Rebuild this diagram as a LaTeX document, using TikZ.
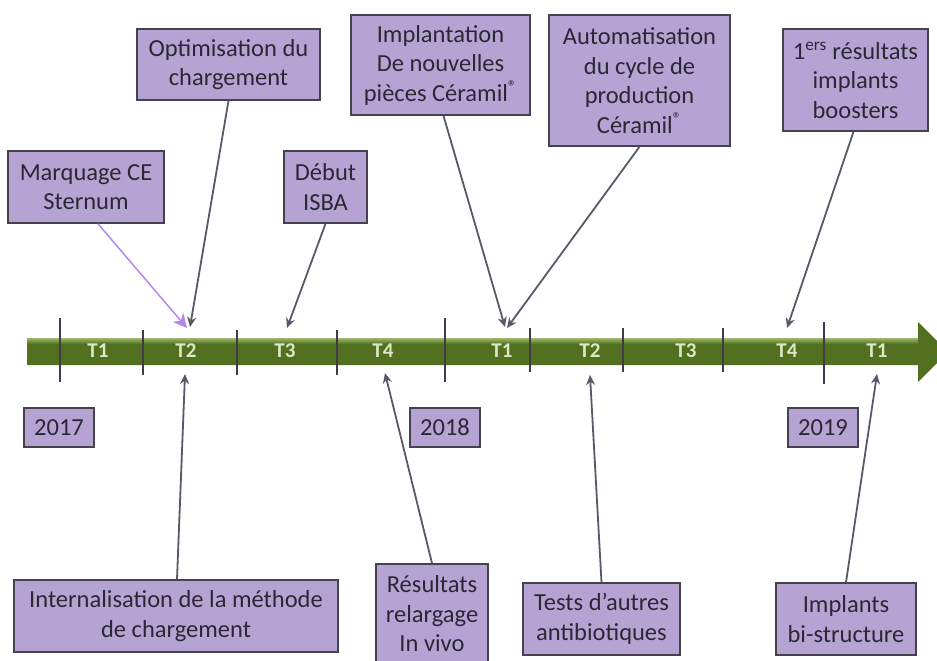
\documentclass[tikz,border=0pt]{standalone}
\usepackage{fontspec}
\setmainfont{Carlito}
\usetikzlibrary{arrows.meta}
\definecolor{boxfill}{HTML}{B5A3D3}
\definecolor{boxline}{HTML}{45424F}
\definecolor{txt}{HTML}{2A2834}
\definecolor{barbase}{HTML}{52701F}
\definecolor{barlight}{HTML}{9DB86A}
\definecolor{tick}{HTML}{3E3C4C}
\definecolor{tlabel}{HTML}{DCE8C4}
\definecolor{link}{HTML}{5A5866}
\definecolor{lilac}{HTML}{B486EA}
\begin{document}
\begin{tikzpicture}[x=1pt,y=-1pt,
  event/.style={draw=boxline, line width=1.6pt, fill=boxfill, text=txt,
    align=center, inner sep=2pt,
    font=\fontsize{24.5}{29.5}\selectfont},
  year/.style={event, minimum width=70pt, minimum height=39pt},
  quarter/.style={text=tlabel, font=\bfseries\fontsize{21}{24}\selectfont},
  tickmark/.style={draw=tick, line width=2pt},
  link/.style={draw=link, line width=1.8pt, -{Stealth[length=10pt,width=9pt]}},
  lilaclink/.style={draw=lilac, line width=1.5pt, -{Stealth[length=14pt,width=14pt,fill=lilac]}}]
\useasboundingbox (0,0) rectangle (937,661);
\clip (0,0) rectangle (937,661);

% timeline arrow
\fill[barbase] (27,338) -- (918,338) -- (918,322) -- (948,352) -- (918,382)
  -- (918,365) -- (27,365) -- cycle;
\shade[top color=barlight, bottom color=barbase] (27,338) rectangle (918,344);

% quarter separators
\foreach \x/\a/\b in {60/318/382, 143/330/375, 237/330/375, 337/330/375,
  445/318/382, 530/328/372, 623/328/372, 723/328/372, 824/322/384}
  \draw[tickmark] (\x,\a) -- (\x,\b);

% quarter labels
\node[quarter] (q1) at (98,351) {T1};
\node[quarter] (q2) at (186,351) {T2};
\node[quarter] (q3) at (285,351) {T3};
\node[quarter] (q4) at (383,351) {T4};
\node[quarter] (q5) at (502,351) {T1};
\node[quarter] (q6) at (590,351) {T2};
\node[quarter] (q7) at (686,351) {T3};
\node[quarter] (q8) at (787,351) {T4};
\node[quarter] (q9) at (877,351) {T1};

% years
\node[year] (y17) at (59,427.5) {2017};
\node[year] (y18) at (445,427.5) {2018};
\node[year] (y19) at (823,427.5) {2019};

% events above the timeline
\node[event, minimum width=156pt, minimum height=72pt] (ce) at (86,187)
  {Marquage CE\\Sternum};
\node[event, minimum width=183pt, minimum height=71pt] (opt) at (228.5,64.5)
  {Optimisation du\\chargement};
\node[event, minimum width=83pt, minimum height=72pt] (isba) at (325.5,187)
  {Début\\ISBA};
\node[event, minimum width=179pt, minimum height=100pt] (impl) at (440.5,65)
  {Implantation\\De nouvelles\\pièces Céramil\textsuperscript{®}};
\node[event, minimum width=181pt, minimum height=131pt] (auto) at (639.5,80.5)
  {Automatisation\\du cycle de\\production\\Céramil\textsuperscript{®}};
\node[event, minimum width=145pt, minimum height=102pt] (boost) at (855.5,80)
  {1\textsuperscript{ers} résultats\\implants\\boosters};

% events below the timeline
\node[event, minimum width=324pt, minimum height=72pt] (intern) at (176,616)
  {Internalisation de la méthode\\de chargement};
\node[event, minimum width=112pt, minimum height=100pt] (relarg) at (432,614)
  {Résultats\\relargage\\In vivo};
\node[event, minimum width=157pt, minimum height=72pt] (tests) at (601.5,619)
  {Tests d’autres\\antibiotiques};
\node[event, minimum width=140pt, minimum height=72pt] (bistr) at (846,619)
  {Implants\\bi-structure};

% arrow targets on the timeline
\coordinate (tce) at (187,328);
\coordinate (topt) at (190,327);
\coordinate (tisba) at (287,328);
\coordinate (timpl) at (505,327);
\coordinate (tauto) at (507,328);
\coordinate (tboost) at (787,328);
\coordinate (tintern) at (185,374);
\coordinate (trelarg) at (385,373);
\coordinate (ttests) at (590,375);
\coordinate (tbistr) at (877,374);

% connectors
\draw[lilaclink] ([xshift=12pt]ce.south) -- (tce);
\draw[link] (opt.south) -- (topt);
\draw[link] (isba.south) -- (tisba);
\draw[link] ([xshift=3pt]impl.south) -- (timpl);
\draw[link] (auto.south) -- (tauto);
\draw[link] ([xshift=-2pt]boost.south) -- (tboost);
\draw[link] ([xshift=1pt]intern.north) -- (tintern);
\draw[link] (relarg.north) -- (trelarg);
\draw[link] (tests.north) -- (ttests);
\draw[link] (bistr.north) -- (tbistr);
\end{tikzpicture}
\end{document}
